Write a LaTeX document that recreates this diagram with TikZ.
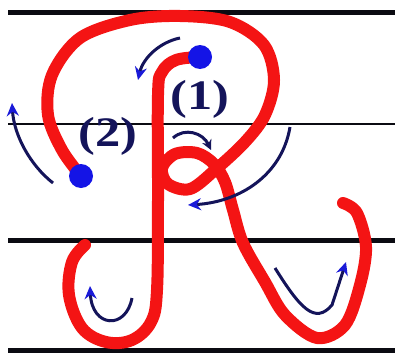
\documentclass[tikz,border=0pt]{standalone}
\usepackage{fontspec}
\setmainfont{Liberation Serif}
\usepackage{tikz}
\usetikzlibrary{arrows.meta}
\definecolor{ink}{HTML}{0B0B12}
\definecolor{stroke}{HTML}{F41414}
\definecolor{dotblue}{HTML}{1414E6}
\definecolor{navy}{HTML}{14145A}
\definecolor{tipblue}{HTML}{1A1AD8}

\begin{document}
\begin{tikzpicture}[
  x=1pt, y=-1pt,
  ruleline/.style={draw=ink, line width=5pt},
  midline/.style={draw=ink, line width=1.2pt},
  letter/.style={draw=stroke, line width=12pt, line cap=round, line join=round},
  startdot/.style={circle, fill=dotblue, inner sep=0pt, minimum size=24pt},
  hint/.style={draw=navy, line width=3pt, -{Stealth[length=13pt, width=12pt, color=tipblue]}},
  hintdark/.style={draw=navy, line width=3pt, -{Stealth[length=10pt, width=10pt]}},
  num/.style={font=\bfseries\fontsize{42}{42}\selectfont, text=navy, xscale=1.2, inner sep=0pt}
]
\useasboundingbox (0,0) rectangle (395,353);

\draw[ruleline] (8,13) -- (395,13);
\draw[midline] (8,124) -- (395,124);
\draw[ruleline] (8,240) -- (395,240);
\draw[ruleline] (8,350) -- (395,350);

\coordinate (one) at (200,57);
\coordinate (two) at (81,176);

\draw[letter] plot[smooth, tension=0.6] coordinates {(one) (176,60) (162,72) (158,95) (158,200) (157,290) (151,322) (132,340) (106,342) (82,328) (69,295) (72,262) (85,245)};
\draw[letter] plot[smooth, tension=0.55] coordinates {(two) (62,150) (48,115) (52,75) (80,38) (130,20) (180,16) (230,22) (264,45) (274,80) (265,115) (245,142) (215,170) (190,189) (168,184) (162,168) (175,154) (197,153) (214,164) (225,182) (233,210) (243,243) (265,282) (285,315) (317,338) (345,325) (360,285) (366,247) (357,213) (343,203)};

\node[startdot] (dot1) at (one) {};
\node[startdot] (dot2) at (two) {};

\draw[hint] (180,38) .. controls (160,42) and (143,58) .. (138,80);
\draw[hint] (53,183) .. controls (30,165) and (14,135) .. (12,103);
\draw[hintdark] (173,138) .. controls (185,127) and (203,133) .. (211,150);
\draw[hint] (290,127) .. controls (282,175) and (240,202) .. (188,205);
\draw[hint] (132,298) .. controls (126,330) and (92,328) .. (90,286);
\draw[hint] (275,268) .. controls (300,308) and (315,325) .. (332,305) -- (346,262);

\node[num] (lbl1) at (200,99) {(1)};
\node[num] (lbl2) at (108,136) {(2)};
\end{tikzpicture}
\end{document}
